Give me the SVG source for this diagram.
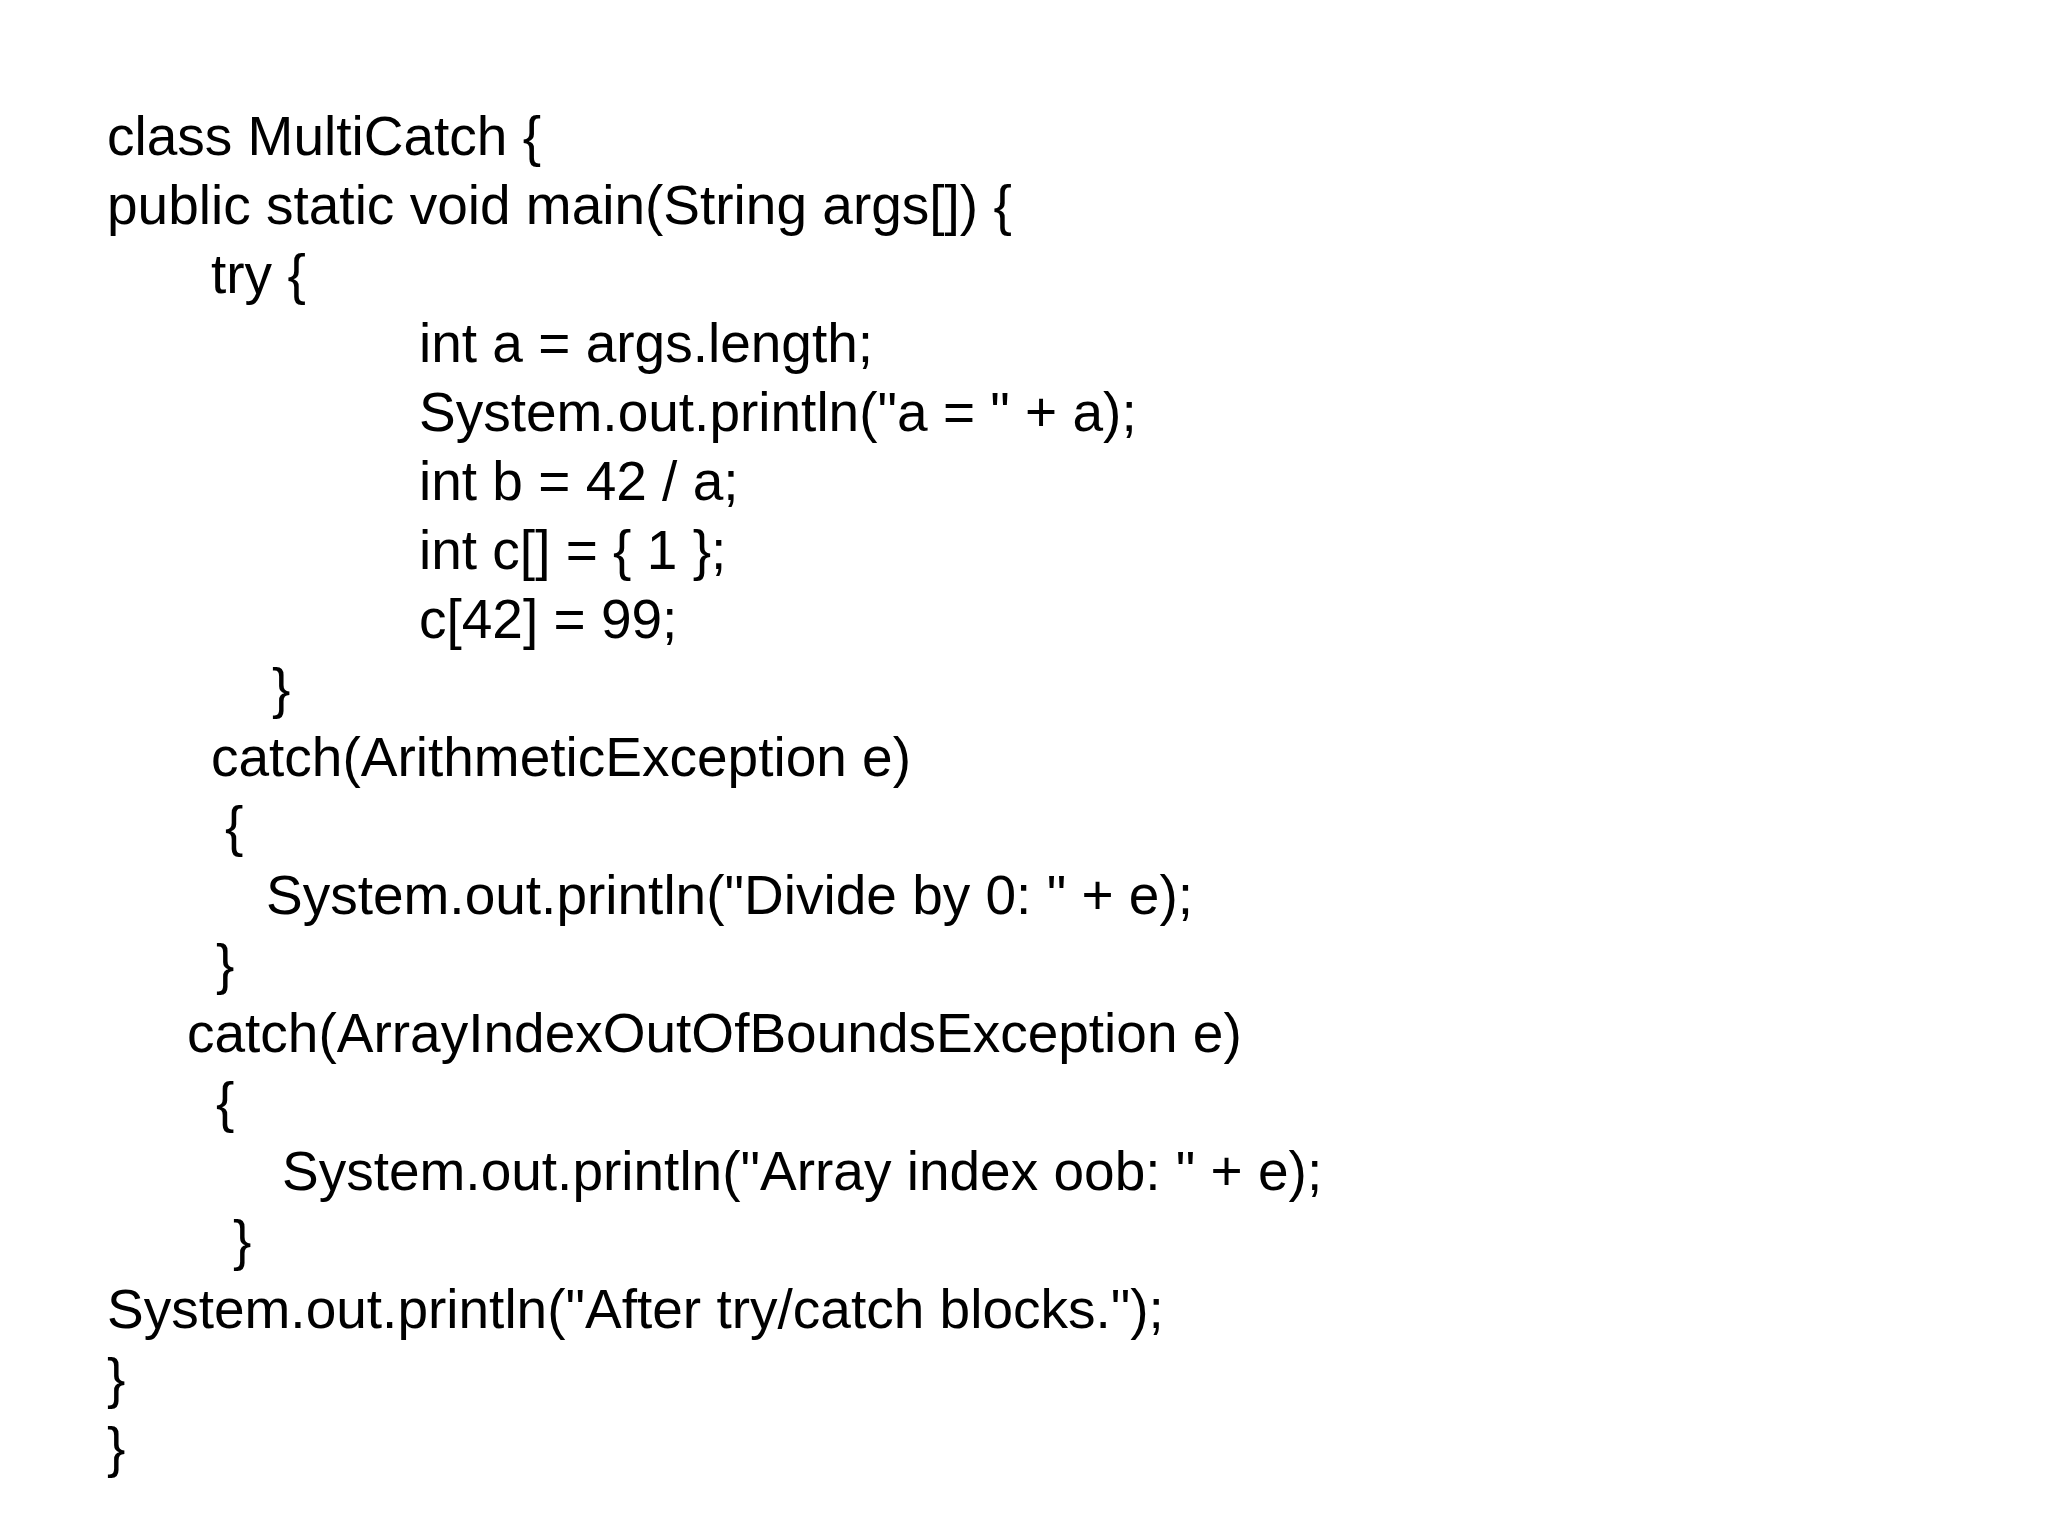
<svg xmlns="http://www.w3.org/2000/svg" width="2048" height="1536" viewBox="0 0 2048 1536">
<style>text{font-family:"Liberation Sans",Arial,sans-serif;font-size:55px;fill:#000}</style>
<rect width="2048" height="1536" fill="#fff"/>
<g id="code">
<text x="107" y="155">class MultiCatch {</text>
<text x="107" y="224">public static void main(String args[]) {</text>
<text x="211" y="293">try {</text>
<text x="419" y="362">int a = args.length;</text>
<text x="419" y="431">System.out.println("a = " + a);</text>
<text x="419" y="500">int b = 42 / a;</text>
<text x="419" y="569">int c[] = { 1 };</text>
<text x="419" y="638">c[42] = 99;</text>
<text x="272" y="707">}</text>
<text x="211" y="776">catch(ArithmeticException e)</text>
<text x="225" y="845">{</text>
<text x="266" y="914">System.out.println("Divide by 0: " + e);</text>
<text x="216" y="983">}</text>
<text x="187" y="1052">catch(ArrayIndexOutOfBoundsException e)</text>
<text x="216" y="1121">{</text>
<text x="282" y="1190">System.out.println("Array index oob: " + e);</text>
<text x="233" y="1259">}</text>
<text x="107" y="1328">System.out.println("After try/catch blocks.");</text>
<text x="107" y="1397">}</text>
<text x="107" y="1466">}</text>
</g>
</svg>
